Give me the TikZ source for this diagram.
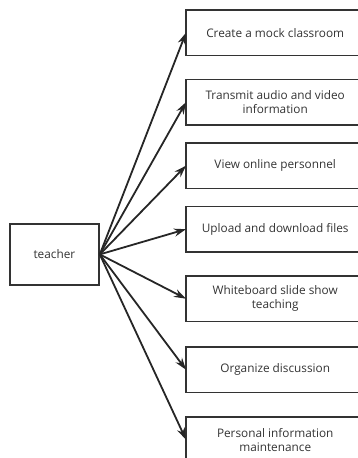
\documentclass[tikz,border=0pt]{standalone}
\usepackage{fontspec}
\setmainfont{Open Sans}
\usetikzlibrary{arrows.meta}
\begin{document}
\begin{tikzpicture}[x=1pt,y=-1pt,
  box/.style={rectangle, minimum width=178pt, minimum height=45pt, align=center, font=\fontsize{11.8}{14}\selectfont, text=black!80, anchor=north west, inner sep=2pt},
  frame/.style={draw=black!80, line width=1.8pt},
  tbox/.style={draw=black!80, line width=1.8pt, rectangle, minimum width=89pt, minimum height=61pt, font=\fontsize{11.8}{14}\selectfont, text=black!80, anchor=north west},
  conn/.style={draw=black!85, line width=1.8pt, -{Stealth[length=12pt,width=8pt]}}]
\useasboundingbox (0,0) rectangle (358,458);
\clip (0,0) rectangle (358,458);
\node[tbox] (t) at (9,223) {teacher};
\node[box] (b1) at (186,10) {Create a mock classroom};
\node[box] (b2) at (186,79.5) {Transmit audio and video\\information};
\node[box] (b3) at (186,143) {View online personnel};
\node[box] (b4) at (186,206.5) {Upload and download files};
\node[box] (b5) at (186,276) {Whiteboard slide show\\teaching};
\node[box] (b6) at (186,347) {Organize discussion};
\node[box] (b7) at (186,417) {Personal information\\maintenance};
\foreach \b in {b1,b2,b3,b4,b5,b6,b7}{
  \draw[frame] (\b.north west) rectangle ([xshift=20pt]\b.south east);
  \draw[conn] (t.east) -- (\b.west);
}
\end{tikzpicture}
\end{document}
